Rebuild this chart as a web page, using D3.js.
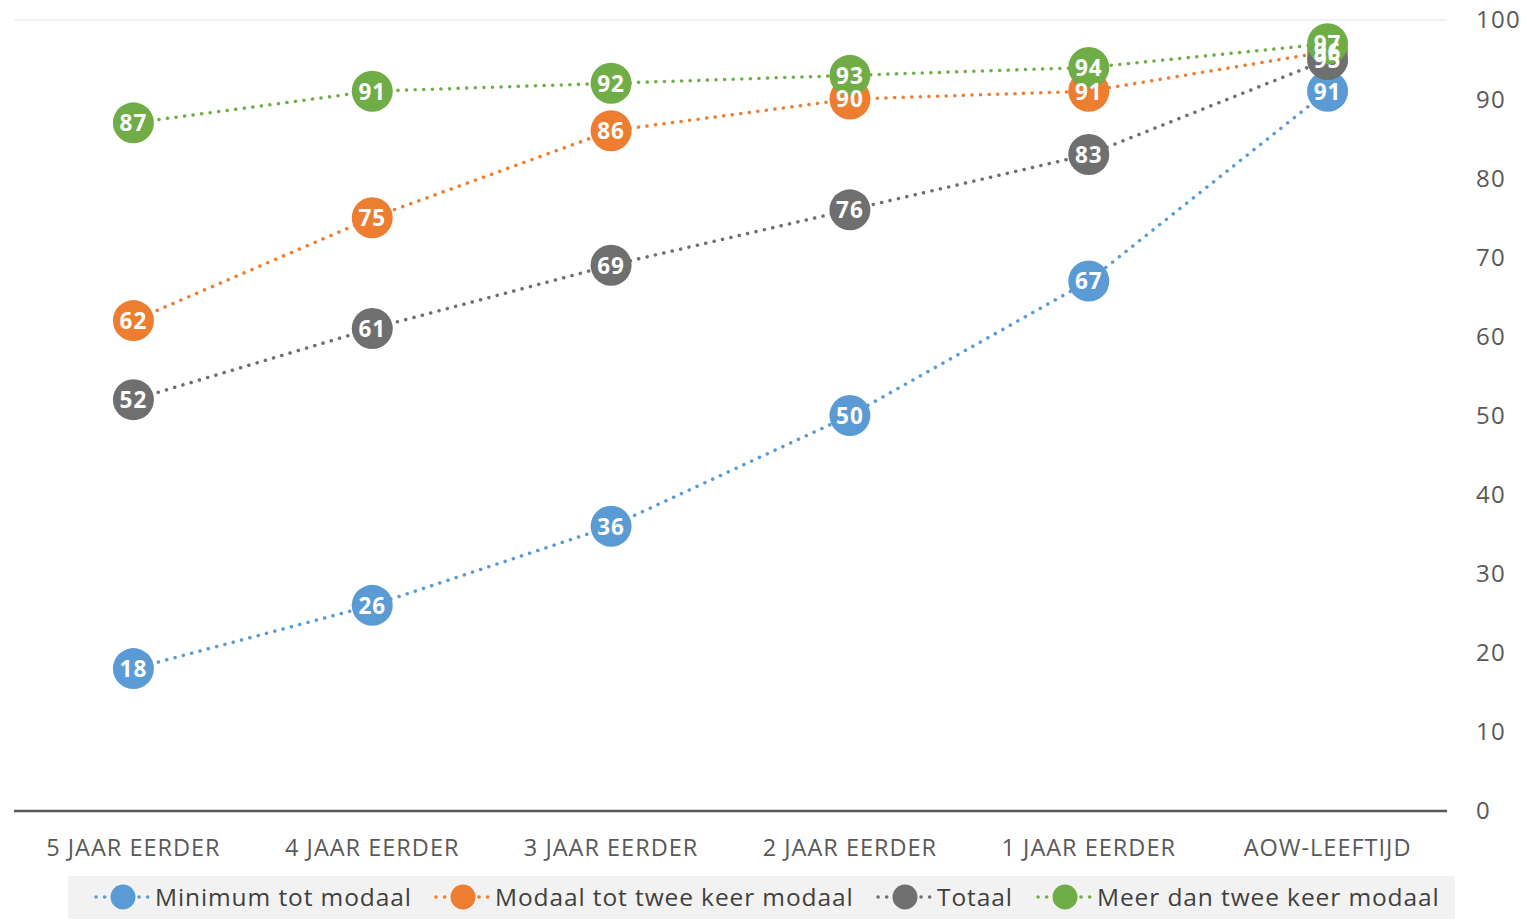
<!DOCTYPE html>
<html><head><meta charset="utf-8">
<script src="https://cdn.jsdelivr.net/npm/d3@7"></script>
<style>body{margin:0;background:#fff;font-family:"Open Sans",sans-serif}</style>
</head><body><svg id="c" width="1527" height="924"></svg>
<script>
const categories = ["5 JAAR EERDER","4 JAAR EERDER","3 JAAR EERDER","2 JAAR EERDER","1 JAAR EERDER","AOW-LEEFTIJD"];
const seriesNames = ["Minimum tot modaal","Modaal tot twee keer modaal","Totaal","Meer dan twee keer modaal"];
const seriesColors = ["#5b9bd5","#ed7d31","#6f6f6f","#70ad47"];
const minimumTotModaal = [18,26,36,50,67,91];
const modaalTotTweeKeer = [62,75,86,90,91,96];
const totaal = [52,61,69,76,83,95];
const meerDanTweeKeer = [87,91,92,93,94,97];
const yTicks = [0,10,20,30,40,50,60,70,80,90,100];
const seriesValues = [minimumTotModaal, modaalTotTweeKeer, totaal, meerDanTweeKeer];

const svg = d3.select("#c");
const x = d3.scaleBand().domain(categories).range([14,1447]);
const y = d3.scaleLinear().domain([0,100]).range([811,20]);

svg.append("line").attr("x1",14).attr("x2",1447).attr("y1",y(100)).attr("y2",y(100)).attr("stroke","#ececec").attr("stroke-width",1.5);

svg.append("g").selectAll("text").data(yTicks).join("text")
  .attr("x",1476).attr("y",d=>y(d)).attr("dy","0.35em")
  .attr("font-size",24).attr("letter-spacing",1.3).attr("fill","#595959").text(d=>d);

svg.append("line").attr("x1",14).attr("x2",1447).attr("y1",y(0)).attr("y2",y(0)).attr("stroke","#595959").attr("stroke-width",2.5);

svg.append("g").selectAll("text").data(categories).join("text")
  .attr("x",d=>x(d)+x.bandwidth()/2).attr("y",856).attr("text-anchor","middle")
  .attr("font-size",23.5).attr("letter-spacing",1).attr("fill","#595959").text(d=>d);

const cx = d=>x(d)+x.bandwidth()/2;
const line = d3.line().x((d,i)=>cx(categories[i])).y(d=>y(d));

seriesValues.forEach((vals,s)=>{
  const g = svg.append("g");
  g.append("path").attr("d",line(vals)).attr("fill","none").attr("stroke",seriesColors[s])
    .attr("stroke-width",3.5).attr("stroke-linecap","round").attr("stroke-dasharray","0.1,8.5");
  g.selectAll("circle").data(vals).join("circle")
    .attr("cx",(d,i)=>cx(categories[i])).attr("cy",d=>y(d)).attr("r",20.5).attr("fill",seriesColors[s]);
});
seriesValues.forEach((vals,s)=>{
  svg.append("g").selectAll("text").data(vals).join("text")
    .attr("x",(d,i)=>cx(categories[i])).attr("y",d=>y(d)).attr("dy","0.37em").attr("text-anchor","middle")
    .attr("font-size",22.5).attr("letter-spacing",1).attr("font-weight","bold").attr("fill","#fff").text(d=>d);
});

svg.append("rect").attr("x",68).attr("y",876).attr("width",1387).attr("height",43).attr("fill","#f2f2f2");
const legX = [94,434,876,1036];
seriesNames.forEach((n,s)=>{
  const g = svg.append("g").attr("transform",`translate(${legX[s]},897)`);
  g.append("line").attr("x1",2).attr("x2",56).attr("y1",0).attr("y2",0).attr("stroke",seriesColors[s])
    .attr("stroke-width",3.5).attr("stroke-linecap","round").attr("stroke-dasharray","0.1,8.5");
  g.append("circle").attr("cx",29).attr("cy",0).attr("r",12.5).attr("fill",seriesColors[s]);
  g.append("text").attr("x",61).attr("y",0).attr("dy","0.35em").attr("font-size",24.5).attr("letter-spacing",0.9).attr("fill","#404040").text(n);
});
</script></body></html>
